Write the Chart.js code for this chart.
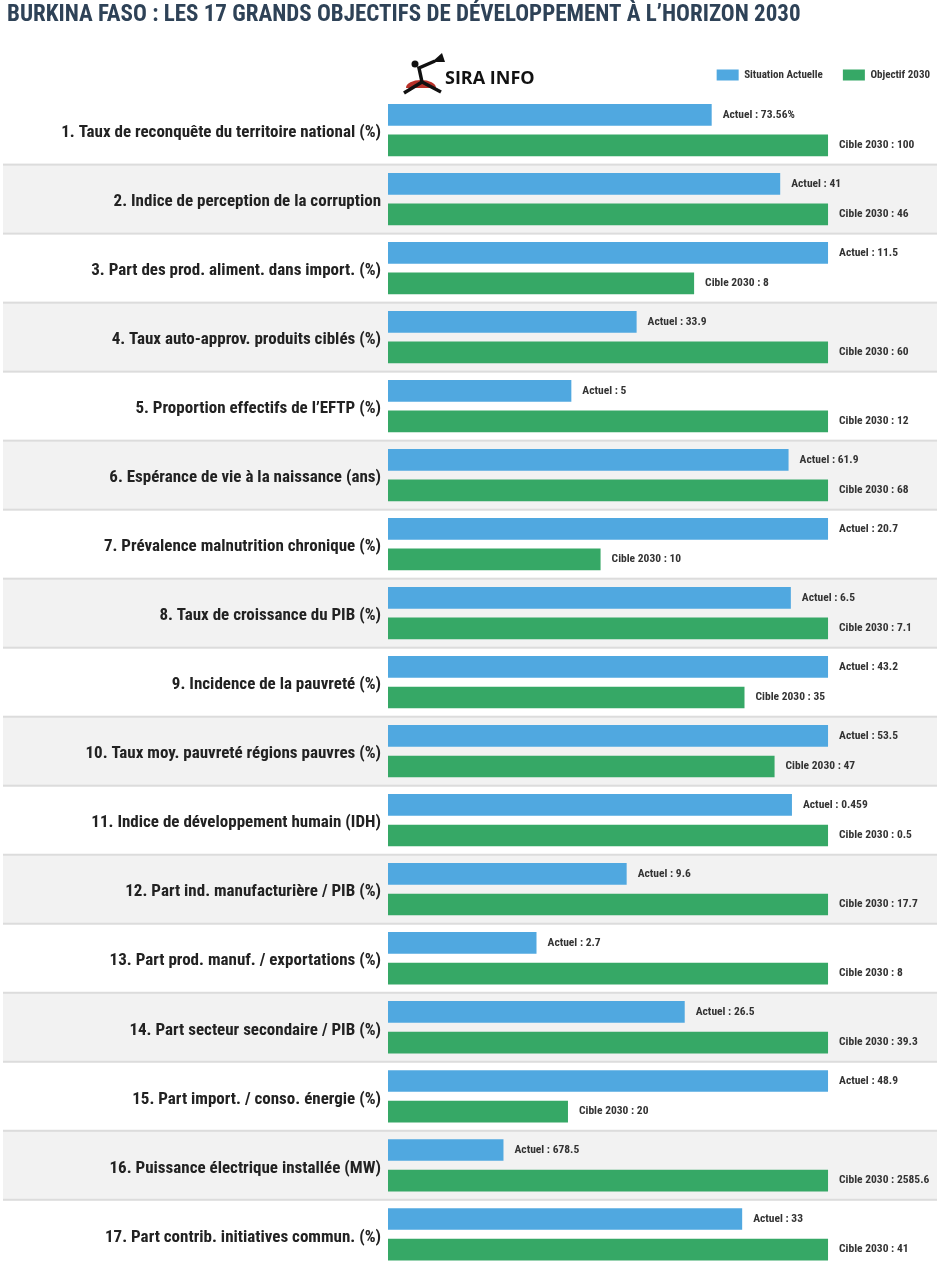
<!DOCTYPE html>
<html lang="fr">
<head>
<meta charset="utf-8">
<title>Burkina Faso : les 17 grands objectifs de développement</title>
<script src="https://cdn.jsdelivr.net/npm/chart.js@4.4.1/dist/chart.umd.min.js"></script>
<style>
  html, body { margin: 0; padding: 0; background: #fff; overflow: hidden; height: 1280px; }
  #wrap { position: relative; width: 942px; height: 1286px; }
</style>
</head>
<body>
<div id="wrap"><canvas id="chart"></canvas></div>
<script>
const categories = [
  '1. Taux de reconquête du territoire national (%)',
  '2. Indice de perception de la corruption',
  '3. Part des prod. aliment. dans import. (%)',
  '4. Taux auto-approv. produits ciblés (%)',
  '5. Proportion effectifs de l\u2019EFTP (%)',
  '6. Espérance de vie à la naissance (ans)',
  '7. Prévalence malnutrition chronique (%)',
  '8. Taux de croissance du PIB (%)',
  '9. Incidence de la pauvreté (%)',
  '10. Taux moy. pauvreté régions pauvres (%)',
  '11. Indice de développement humain (IDH)',
  '12. Part ind. manufacturière / PIB (%)',
  '13. Part prod. manuf. / exportations (%)',
  '14. Part secteur secondaire / PIB (%)',
  '15. Part import. / conso. énergie (%)',
  '16. Puissance électrique installée (MW)',
  '17. Part contrib. initiatives commun. (%)'
];
const actuel = [73.56, 41, 11.5, 33.9, 5, 61.9, 20.7, 6.5, 43.2, 53.5, 0.459, 9.6, 2.7, 26.5, 48.9, 678.5, 33];
const cible  = [100, 46, 8, 60, 12, 68, 10, 7.1, 35, 47, 0.5, 17.7, 8, 39.3, 20, 2585.6, 41];
const seriesNames = ['Situation Actuelle', 'Objectif 2030'];

const FONT = "'Roboto Condensed', Roboto, sans-serif";

// each pair is scaled to its own max (longest bar = 100)
const rowMax = actuel.map((v, i) => Math.max(v, cible[i]));
const actuelPct = actuel.map((v, i) => v / rowMax[i] * 100);
const ciblePct = cible.map((v, i) => v / rowMax[i] * 100);

// alternating row backgrounds, drawn before the axis labels
const rowBands = {
  id: 'rowBands',
  beforeDraw(chart) {
    const {ctx, scales: {y}} = chart;
    const half = (y.getPixelForValue(1) - y.getPixelForValue(0)) / 2;
    ctx.save();
    categories.forEach((c, i) => {
      const yc = y.getPixelForValue(i);
      if (i % 2 === 1) {
        ctx.fillStyle = '#f2f2f2';
        ctx.fillRect(3, yc - half, 934, half * 2);
      }
      if (i > 0) {
        ctx.fillStyle = '#dcdcdc';
        ctx.fillRect(3, yc - half - 1, 934, 2);
      }
    });
    ctx.restore();
  }
};

const valueLabels = {
  id: 'valueLabels',
  afterDatasetsDraw(chart) {
    const {ctx} = chart;
    ctx.save();
    ctx.font = 'bold 11.5px ' + FONT;
    ctx.fillStyle = '#333';
    ctx.textBaseline = 'middle';
    chart.getDatasetMeta(0).data.forEach((bar, i) => {
      ctx.fillText('Actuel : ' + actuel[i] + (i === 0 ? '%' : ''), bar.x + 11, bar.y);
    });
    chart.getDatasetMeta(1).data.forEach((bar, i) => {
      ctx.fillText('Cible 2030 : ' + cible[i], bar.x + 11, bar.y);
    });
    ctx.restore();
  }
};

const logo = {
  id: 'logo',
  afterDraw(chart) {
    const {ctx} = chart;
    ctx.save();
    // small emblem next to the name
    ctx.fillStyle = '#b8322a';
    ctx.beginPath();
    ctx.ellipse(421, 88, 15, 8, 0, Math.PI, 0);
    ctx.fill();
    ctx.strokeStyle = '#111';
    ctx.lineWidth = 3.5;
    ctx.beginPath();
    ctx.moveTo(404, 93); ctx.lineTo(422, 82); ctx.lineTo(441, 92);
    ctx.moveTo(422, 82); ctx.lineTo(419, 68); ctx.lineTo(435, 61);
    ctx.stroke();
    ctx.fillStyle = '#111';
    ctx.beginPath();
    ctx.arc(415, 64, 3.5, 0, Math.PI * 2);
    ctx.fill();
    ctx.beginPath();
    ctx.moveTo(432, 62); ctx.lineTo(442, 53); ctx.lineTo(445, 62);
    ctx.fill();
    ctx.font = 'bold 18px "Open Sans", ' + FONT;
    ctx.textBaseline = 'alphabetic';
    ctx.fillText('SIRA INFO', 445, 84);
    ctx.restore();
  }
};

new Chart(document.getElementById('chart'), {
  type: 'bar',
  data: {
    labels: categories,
    datasets: [{
      label: seriesNames[0],
      data: actuelPct,
      backgroundColor: '#50a8e0'
    }, {
      label: seriesNames[1],
      data: ciblePct,
      backgroundColor: '#36a866'
    }]
  },
  options: {
    indexAxis: 'y',
    responsive: true,
    maintainAspectRatio: false,
    animation: false,
    categoryPercentage: 0.886,
    barPercentage: 0.71,
    layout: { padding: { left: 7, right: -8, top: 0, bottom: 0 } },
    scales: {
      x: {
        position: 'top',
        min: 0,
        max: 125.9,
        grid: { display: false },
        border: { display: false },
        ticks: { display: false },
        afterFit(scale) { scale.height = 5; }
      },
      y: {
        grid: { display: false, drawTicks: false },
        border: { display: false },
        ticks: {
          autoSkip: false,
          padding: 7,
          labelOffset: 3,
          color: '#222',
          font: { family: FONT, size: 17, weight: 'bold' }
        },
        afterFit(scale) { scale.width = 381; }
      }
    },
    plugins: {
      title: {
        display: true,
        text: 'BURKINA FASO : LES 17 GRANDS OBJECTIFS DE DÉVELOPPEMENT À L\u2019HORIZON 2030',
        align: 'start',
        color: '#2e4257',
        font: { family: FONT, size: 23, weight: 'bold' },
        padding: { top: 1, bottom: 21 }
      },
      legend: {
        position: 'top',
        align: 'end',
        labels: {
          boxWidth: 22,
          boxHeight: 11,
          padding: 20,
          color: '#333',
          font: { family: FONT, size: 11, weight: 'bold' }
        }
      },
      tooltip: { enabled: false }
    }
  },
  plugins: [rowBands, valueLabels, logo]
});
</script>
</body>
</html>
